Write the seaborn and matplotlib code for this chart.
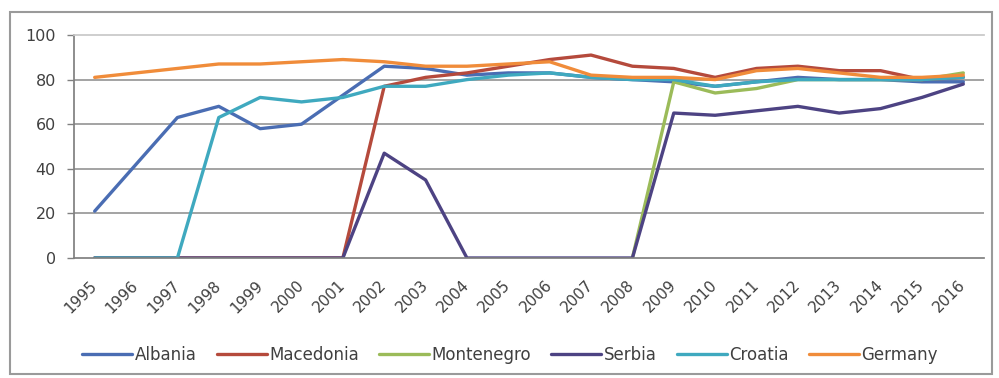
import matplotlib
matplotlib.use("Agg")
import matplotlib.pyplot as plt
from matplotlib.patches import Rectangle
import numpy as np
import pandas as pd
import seaborn as sns

years = [str(y) for y in range(1995, 2017)]

nan = np.nan
albania = [21, 42, 63, 68, 58, 60, 73, 86, 85, 82, 83, 83, 81, 80, 79, 77, 79, 81, 80, 80, 79, 79]
macedonia = [0, 0, 0, 0, 0, 0, 0, 77, 81, 83, 86, 89, 91, 86, 85, 81, 85, 86, 84, 84, 80, 81]
montenegro = [nan, nan, nan, nan, nan, nan, nan, nan, nan, nan, nan, nan, nan, 0, 79, 74, 76, 80, 80, 80, 80, 83]
serbia = [0, 0, 0, 0, 0, 0, 0, 47, 35, 0, 0, 0, 0, 0, 65, 64, 66, 68, 65, 67, 72, 78]
croatia = [0, 0, 0, 63, 72, 70, 72, 77, 77, 80, 82, 83, 81, 80, 80, 77, 79, 80, 80, 80, 80, 81]
germany = [81, 83, 85, 87, 87, 88, 89, 88, 86, 86, 87, 88, 82, 81, 81, 80, 84, 85, 83, 81, 81, 82]

countries = ["Albania", "Macedonia", "Montenegro", "Serbia", "Croatia", "Germany"]
series = [albania, macedonia, montenegro, serbia, croatia, germany]
colors = ["#4a6db3", "#b54a3c", "#9bbb59", "#4d4383", "#3fa9bf", "#f08c3a"]

frames = []
for name, vals in zip(countries, series):
    frames.append(pd.DataFrame({"idx": np.arange(len(years)), "value": vals, "country": name}))
df = pd.concat(frames, ignore_index=True).dropna()

sns.set_theme(style="white")
plt.rcParams["font.family"] = ["DejaVu Sans"]

fig = plt.figure(figsize=(9.99, 3.78), dpi=100)
fig.patches.append(Rectangle((10 / 999, 4 / 378), 982 / 999, 362 / 378,
                             transform=fig.transFigure, fill=False,
                             edgecolor="#9a9a9a", linewidth=1.5))
ax = fig.add_axes([74 / 999, 1 - 258 / 378, 910 / 999, 223 / 378])

sns.lineplot(data=df, x="idx", y="value", hue="country", hue_order=countries,
             palette=colors, linewidth=2.4, ax=ax, legend=False)

ax.set_xlim(-0.5, len(years) - 0.5)
ax.set_ylim(0, 100)
ax.set_yticks([0, 20, 40, 60, 80, 100])
ax.set_yticklabels(["0", "20", "40", "60", "80", "100"], fontsize=11.5, color="#404040")
ax.set_xticks(np.arange(len(years)))
ax.set_xticklabels(years, rotation=45, ha="right", va="center", fontsize=11,
                   color="#404040", rotation_mode="anchor")
ax.set_xticks(np.arange(-0.5, len(years), 1.0), minor=True)
ax.tick_params(axis="x", which="major", length=0, pad=18)
ax.tick_params(axis="x", which="minor", length=5, color="#808080", width=1, direction="out")
ax.tick_params(axis="y", length=5, color="#808080", width=1, direction="out", left=True, pad=8)
ax.set_xlabel("")
ax.set_ylabel("")

for v in [20, 40, 60, 80]:
    ax.axhline(v, color="#8a8a8a", linewidth=1.1, zorder=0)
ax.spines["top"].set_color("#c8c8c8")
ax.spines["right"].set_visible(False)
ax.spines["left"].set_color("#808080")
ax.spines["bottom"].set_color("#808080")

handles = [plt.Line2D([0], [0], color=c, linewidth=2.4) for c in colors]
fig.legend(handles, countries, loc="center", bbox_to_anchor=(510 / 999, 1 - 355 / 378),
           ncol=6, frameon=False, fontsize=12, handlelength=3.0, handletextpad=0.15,
           columnspacing=1.2, labelcolor="#404040")

fig.savefig("out.png", dpi=100, facecolor="white")
